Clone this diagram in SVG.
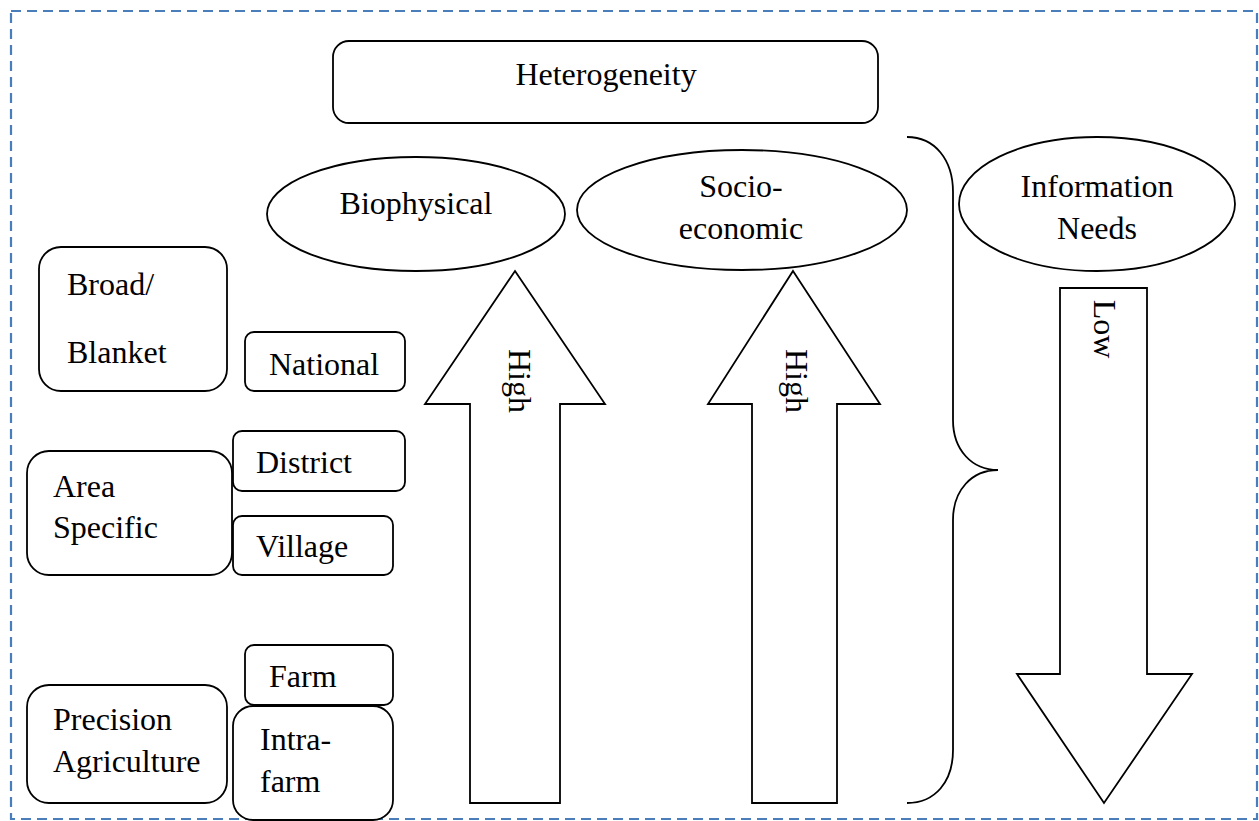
<svg xmlns="http://www.w3.org/2000/svg" width="1259" height="821" viewBox="0 0 1259 821">
<style>
.box{fill:#fff;stroke:#000;stroke-width:1.8}
.shape{fill:#fff;stroke:#000;stroke-width:1.8}
.t{font-family:"Liberation Serif","Times New Roman",serif;font-size:32px;fill:#000}
.border{fill:none;stroke:#4a7ebb;stroke-width:2.2;stroke-dasharray:10 6}
</style>
<rect width="1259" height="821" fill="#fff"/>
<rect class="border" x="11" y="11" width="1246" height="808"/>

<g id="heterogeneity">
<rect class="box" x="333" y="41" width="545" height="82" rx="16"/>
<text class="t" x="606" y="85" text-anchor="middle">Heterogeneity</text>
</g>
<g id="biophysical">
<ellipse class="shape" cx="416" cy="214" rx="149" ry="57"/>
<text class="t" x="416" y="214" text-anchor="middle">Biophysical</text>
</g>
<g id="socioeconomic">
<ellipse class="shape" cx="742" cy="210" rx="165" ry="60"/>
<text class="t" x="741" y="197" text-anchor="middle">Socio-</text>
<text class="t" x="741" y="239" text-anchor="middle">economic</text>
</g>
<g id="information-needs">
<ellipse class="shape" cx="1097" cy="204" rx="138" ry="67"/>
<text class="t" x="1097" y="197" text-anchor="middle">Information</text>
<text class="t" x="1097" y="239" text-anchor="middle">Needs</text>
</g>

<g id="connectors">
<path id="brace" d="M907,137 C935,137 953,160 953,192 L953,420 C953,450 972,470 998,470 C972,470 953,490 953,520 L953,750 C953,782 935,803 907,803" fill="none" stroke="#000" stroke-width="1.8"/>
<g id="arrow-biophysical">
<polygon class="shape" points="515,271 605,404 560,404 560,803 470,803 470,404 425,404"/>
<text class="t" transform="translate(509,381) rotate(90)" text-anchor="middle">High</text>
</g>
<g id="arrow-socioeconomic">
<polygon class="shape" points="793,271 880,404 837,404 837,803 752,803 752,404 708,404"/>
<text class="t" transform="translate(786,381) rotate(90)" text-anchor="middle">High</text>
</g>
<g id="arrow-information">
<polygon class="shape" points="1060,288 1147,288 1147,674 1192,674 1104,803 1017,674 1060,674"/>
<text class="t" transform="translate(1094,329) rotate(90)" text-anchor="middle">Low</text>
</g>
</g>

<g id="broad-blanket">
<rect class="box" x="39" y="247" width="188" height="144" rx="22"/>
<text class="t" x="67" y="295">Broad/</text>
<text class="t" x="67" y="363">Blanket</text>
</g>
<g id="national">
<rect class="box" x="245" y="332" width="160" height="59" rx="9"/>
<text class="t" x="269" y="375">National</text>
</g>
<g id="area-specific">
<rect class="box" x="27" y="451" width="205" height="124" rx="22"/>
<text class="t" x="53" y="497">Area</text>
<text class="t" x="53" y="538">Specific</text>
</g>
<g id="district">
<rect class="box" x="233" y="431" width="172" height="60" rx="9"/>
<text class="t" x="256" y="473">District</text>
</g>
<g id="village">
<rect class="box" x="233" y="516" width="160" height="59" rx="9"/>
<text class="t" x="256" y="557">Village</text>
</g>
<g id="precision-agriculture">
<rect class="box" x="27" y="685" width="200" height="118" rx="22"/>
<text class="t" x="53" y="730">Precision</text>
<text class="t" x="53" y="772">Agriculture</text>
</g>
<g id="farm">
<rect class="box" x="245" y="645" width="148" height="60" rx="9"/>
<text class="t" x="269" y="687">Farm</text>
</g>
<g id="intra-farm">
<rect class="box" x="233" y="706" width="160" height="114" rx="20"/>
<text class="t" x="260" y="750">Intra-</text>
<text class="t" x="260" y="792">farm</text>
</g>
</svg>
